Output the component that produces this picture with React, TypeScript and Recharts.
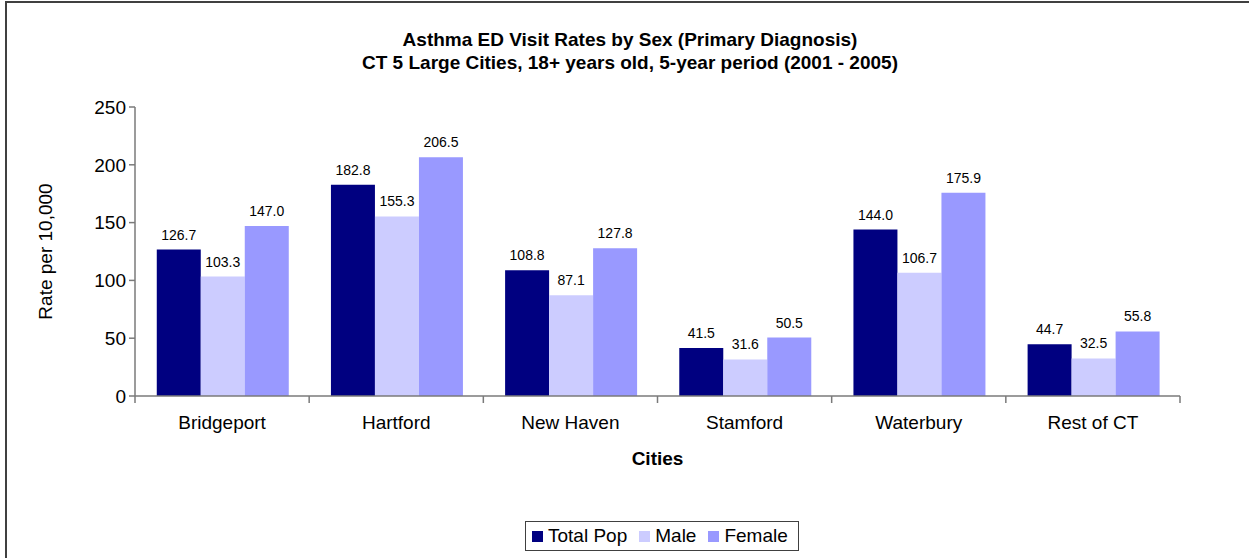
import React from "react";
import { BarChart, Bar, XAxis, YAxis, LabelList } from "recharts";

const cities = ["Bridgeport", "Hartford", "New Haven", "Stamford", "Waterbury", "Rest of CT"];
const totalPop = [126.7, 182.8, 108.8, 41.5, 144.0, 44.7];
const male = [103.3, 155.3, 87.1, 31.6, 106.7, 32.5];
const female = [147.0, 206.5, 127.8, 50.5, 175.9, 55.8];
const yTicks = [0, 50, 100, 150, 200, 250];

const series = [
  { key: "total", name: "Total Pop", color: "#000080" },
  { key: "male", name: "Male", color: "#CCCCFF" },
  { key: "female", name: "Female", color: "#9999FF" },
];

const data = cities.map((city, i) => ({
  city,
  total: totalPop[i],
  male: male[i],
  female: female[i],
}));

const FONT = "'Liberation Sans', Arial, sans-serif";
const AXIS_COLOR = "#7a7a7a";
const TEXT_SIZE = 19;
const X_TICK_SIZE = 7;
const X_TICK_MARGIN = 13;

function CityTick(props: any) {
  const { x, y, payload, index, width, visibleTicksCount } = props;
  const bw = width / visibleTicksCount;
  const axisY = y - X_TICK_SIZE - X_TICK_MARGIN;
  const left = x - bw / 2;
  return (
    <g>
      <line x1={left} x2={left} y1={axisY} y2={axisY + X_TICK_SIZE} stroke={AXIS_COLOR} strokeWidth={1.5} />
      {index === visibleTicksCount - 1 && (
        <line x1={left + bw} x2={left + bw} y1={axisY} y2={axisY + X_TICK_SIZE} stroke={AXIS_COLOR} strokeWidth={1.5} />
      )}
      <text x={x} y={y} dy="0.71em" textAnchor="middle" fontSize={TEXT_SIZE} fill="#000" fontFamily={FONT}>
        {payload.value}
      </text>
    </g>
  );
}

export default function App() {
  return (
    <div
      style={{
        position: "absolute",
        left: 0,
        top: 0,
        width: 1249,
        height: 558,
        overflow: "hidden",
        background: "#fff",
        fontFamily: FONT,
      }}
    >
      {/* chart frame: only left and top edges are in view */}
      <div
        style={{
          position: "absolute",
          left: 5,
          top: 1,
          width: 1300,
          height: 600,
          border: "2px solid #404040",
          boxSizing: "border-box",
        }}
      />
      <div
        style={{
          position: "absolute",
          left: 5,
          top: 28,
          width: 1250,
          textAlign: "center",
          fontWeight: "bold",
          fontSize: 19,
          lineHeight: "23px",
          color: "#000",
        }}
      >
        <div>Asthma ED Visit Rates by Sex (Primary Diagnosis)</div>
        <div>CT 5 Large Cities, 18+ years old, 5-year period (2001 - 2005)</div>
      </div>

      <div style={{ position: "absolute", left: 0, top: 0 }}>
        <BarChart
          width={1249}
          height={558}
          data={data}
          margin={{ top: 107, right: 69, bottom: 92, left: 0 }}
          barCategoryGap="12.5%"
          barGap={0}
        >
          <XAxis
            dataKey="city"
            height={70}
            stroke={AXIS_COLOR}
            strokeWidth={1.5}
            tickLine={false}
            tickSize={X_TICK_SIZE}
            tickMargin={X_TICK_MARGIN}
            tick={<CityTick />}
            interval={0}
            label={{
              value: "Cities",
              position: "insideBottom",
              offset: 1,
              fontWeight: "bold",
              fontSize: TEXT_SIZE,
              fill: "#000",
              fontFamily: FONT,
            }}
          />
          <YAxis
            width={135}
            domain={[0, 250]}
            ticks={yTicks}
            interval={0}
            stroke={AXIS_COLOR}
            strokeWidth={1.5}
            tickSize={6}
            tickMargin={3}
            tick={{ fontSize: TEXT_SIZE, fill: "#000", fontFamily: FONT }}
            label={{
              value: "Rate per 10,000",
              angle: -90,
              position: "insideLeft",
              offset: 45,
              fontSize: TEXT_SIZE,
              fill: "#000",
              fontFamily: FONT,
              style: { textAnchor: "middle" },
            }}
          />
          {series.map((s) => (
            <Bar key={s.key} dataKey={s.key} name={s.name} fill={s.color} isAnimationActive={false}>
              <LabelList
                dataKey={s.key}
                position="top"
                offset={10}
                formatter={(v: any) => (typeof v === "number" ? v.toFixed(1) : v)}
                style={{ fontSize: 14, fill: "#000", fontFamily: FONT }}
              />
            </Bar>
          ))}
        </BarChart>
      </div>

      <div
        style={{
          position: "absolute",
          left: 525,
          top: 521,
          width: 274,
          height: 30,
          border: "1.5px solid #404040",
          boxSizing: "border-box",
          display: "flex",
          alignItems: "center",
          paddingLeft: 6,
          fontSize: TEXT_SIZE,
          color: "#000",
          background: "#fff",
          whiteSpace: "nowrap",
        }}
      >
        {series.map((s) => (
          <div key={s.key} style={{ display: "flex", alignItems: "center", marginRight: 12, flexShrink: 0 }}>
            <span style={{ width: 11, height: 11, background: s.color, display: "inline-block", marginRight: 5 }} />
            <span>{s.name}</span>
          </div>
        ))}
      </div>
    </div>
  );
}
